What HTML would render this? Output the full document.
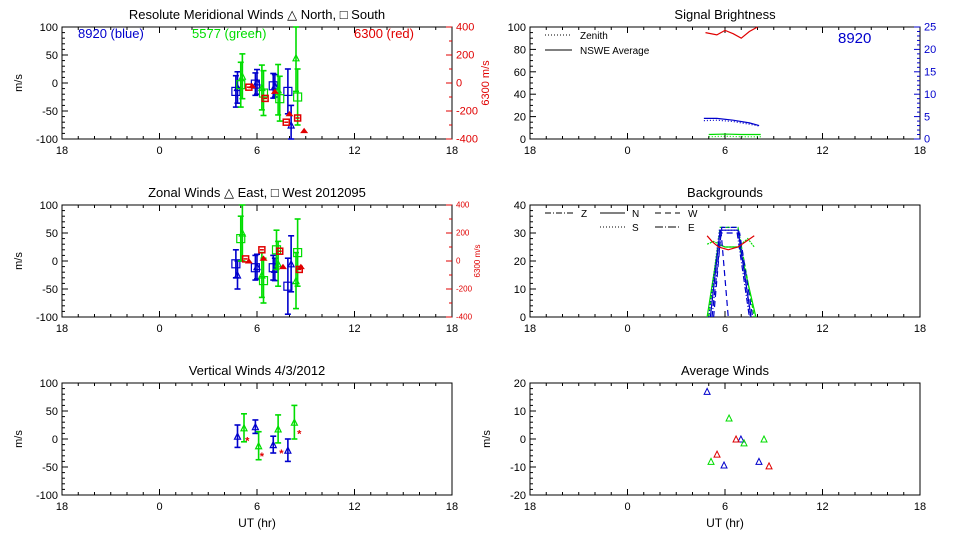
<!DOCTYPE html>
<html><head><meta charset="utf-8"><style>
body{margin:0;background:#fff;}
svg text{font-family:"Liberation Sans",sans-serif;}
</style></head><body>
<svg id="c" width="960" height="540" xmlns="http://www.w3.org/2000/svg"></svg>
<script>
// ---------- data ----------
const xTickLabels=["18","0","6","12","18"];
// Meridional (top-left)
const merBlueTriT=[4.8,6.0,7.1,8.1], merBlueTriV=[-8,2,-5,-75], merBlueTriE=[28,22,20,35];
const merBlueSqT=[4.7,5.9,7.0,7.9], merBlueSqV=[-15,-2,-5,-15], merBlueSqE=[28,20,22,40];
const merGreenTriT=[5.1,6.3,7.3,8.4], merGreenTriV=[12,-8,-12,45], merGreenTriE=[40,40,45,60];
const merGreenSqT=[5.0,6.4,7.4,8.5], merGreenSqV=[-3,-18,-28,-25], merGreenSqE=[40,40,40,50];
const merRedSqT=[5.5,6.5,7.8,8.5], merRedSqV=[-30,-110,-280,-250];
const merRedTriT=[5.7,7.1,8.0,8.9], merRedTriV=[-20,-60,-220,-340];
// Zonal (middle-left)
const zonBlueTriT=[4.8,6.0,7.1,8.1], zonBlueTriV=[-25,-10,-15,-5], zonBlueTriE=[25,22,20,50];
const zonBlueSqT=[4.7,5.9,7.0,7.9], zonBlueSqV=[-5,-12,-12,-45], zonBlueSqE=[25,22,22,50];
const zonGreenTriT=[5.1,6.3,7.3,8.4], zonGreenTriV=[50,-25,-5,-35], zonGreenTriE=[50,40,40,50];
const zonGreenSqT=[5.0,6.4,7.2,8.5], zonGreenSqV=[40,-35,20,15], zonGreenSqE=[40,40,35,60];
const zonRedSqT=[5.3,6.3,7.4,8.6], zonRedSqV=[15,80,70,-60];
const zonRedTriT=[5.5,6.4,7.6,8.7], zonRedTriV=[0,20,-40,-40];
// Vertical (bottom-left)
const verBlueT=[4.8,5.9,7.0,7.9], verBlueV=[5,22,-10,-20], verBlueE=[20,12,15,20];
const verGreenT=[5.2,6.1,7.3,8.3], verGreenV=[20,-12,18,30], verGreenE=[25,25,25,30];
const verRedT=[5.4,6.3,7.5,8.6], verRedV=[-3,-30,-25,10];
// Signal brightness (top-right)
const sigBlueT=[4.7,5.5,6.5,7.5,8.1], sigBlueV=[4.6,4.6,4.2,3.6,3.0];
const sigBlue2T=[4.7,5.5,6.5,7.5,8.1], sigBlue2V=[4.1,4.2,3.9,3.3,2.9];
const sigGreenT=[5.0,6.0,7.0,8.2], sigGreenV=[1.0,1.1,1.0,1.0];
const sigGreen2T=[5.0,6.0,7.0,8.2], sigGreen2V=[0.5,0.6,0.5,0.5];
const sigRedT=[4.8,5.5,6.0,6.5,7.0,7.5,8.0], sigRedV=[95,93,97,94,90,96,100];
// Backgrounds (middle-right)
const bgBlueN=[[5.1,0],[5.7,31],[6.8,31],[7.6,0]];
const bgBlueZ=[[5.2,0],[5.8,32],[6.7,32],[7.5,0]];
const bgBlueW=[[5.3,0],[5.75,30],[6.9,30],[7.7,0]];
const bgBlueS=[[5.0,0],[5.65,31],[6.85,31],[7.55,0]];
const bgBlueD=[[5.75,31],[6.2,0]];
const bgGreen1=[[4.9,0],[5.6,26],[6.0,25],[6.9,25],[7.9,0]];
const bgGreen2=[[5.0,0],[5.7,32],[6.8,32],[7.8,0]];
const bgRed=[[4.9,29],[5.2,27],[5.6,25],[6.2,24],[6.8,25],[7.3,27],[7.8,29]];
const bgGreenFlare=[[4.9,26],[5.3,27],[6.0,25],[6.8,25],[7.4,28],[7.8,25]];
// Average winds (bottom-right)
const avgBlueT=[4.9,5.94,6.98,8.09], avgBlueV=[17,-9.3,0,-8];
const avgGreenT=[5.14,6.25,7.17,8.4], avgGreenV=[-8,7.5,-1.4,0];
const avgRedT=[5.51,6.68,8.71], avgRedV=[-5.4,0,-9.6];

// ---------- drawing ----------
const svg=document.getElementById('c');
const NS="http://www.w3.org/2000/svg";
function mk(tag,attrs,parent){const e=document.createElementNS(NS,tag);for(const k in attrs)e.setAttribute(k,attrs[k]);(parent||svg).appendChild(e);return e;}
function txt(s,x,y,opt,name){const e=mk('text',Object.assign({x:x,y:y,'font-size':12,fill:'#000'},opt||{}));e.textContent=s;

return e;}

function panel(x0,y0,x1,y1,ymin,ymax,yTicks,yMinor,name){
  const P={x0,y0,x1,y1,ymin,ymax};
  P.sx=t=>x0+(t+6)*(x1-x0)/24;
  P.sy=v=>y1-(v-ymin)*(y1-y0)/(ymax-ymin);
  const g=mk('g',{});
  
  
  mk('rect',{x:x0,y:y0,width:x1-x0,height:y1-y0,fill:'none',stroke:'#000','stroke-width':1},g);
  for(let h=0;h<=24;h++){const X=x0+h*(x1-x0)/24;const L=(h%6==0)?6:3;
    mk('line',{x1:X,y1:y1,x2:X,y2:y1-L,stroke:'#000'},g);mk('line',{x1:X,y1:y0,x2:X,y2:y0+L,stroke:'#000'},g);}
  xTickLabels.forEach((s,i)=>{txt(s,x0+i*(x1-x0)/4,y1+15,{'text-anchor':'middle','font-size':11},'x-tick-label');});
  for(let v=ymin;v<=ymax+1e-9;v+=yMinor){const Y=P.sy(v);const major=yTicks.some(t=>Math.abs(t-v)<1e-9);
    mk('line',{x1:x0,y1:Y,x2:x0+(major?6:3),y2:Y,stroke:'#000'},g);}
  yTicks.forEach(v=>txt(String(v),x0-4,P.sy(v)+4,{'text-anchor':'end','font-size':11},'y-tick-label'));
  return P;
}
function rightAxis(P,rmin,rmax,ticks,minor,color,fs,name){
  const sr=v=>P.y1-(v-rmin)*(P.y1-P.y0)/(rmax-rmin);
  for(let v=rmin;v<=rmax+1e-9;v+=minor){const Y=sr(v);const major=ticks.includes(v);
    mk('line',{x1:P.x1,y1:Y,x2:P.x1-(major?6:3),y2:Y,stroke:color});}
  ticks.forEach(v=>txt(String(v),P.x1+4,sr(v)+fs/3,{fill:color,'font-size':fs},name));
  return sr;
}
function errbar(X,Y1,Y2,color){mk('line',{x1:X,y1:Y1,x2:X,y2:Y2,stroke:color,'stroke-width':1.6});
  mk('line',{x1:X-3,y1:Y1,x2:X+3,y2:Y1,stroke:color,'stroke-width':1.6});mk('line',{x1:X-3,y1:Y2,x2:X+3,y2:Y2,stroke:color,'stroke-width':1.6});}
function tri(X,Y,color,w){const e=mk('polygon',{points:`${X-3},${Y+3} ${X+3},${Y+3} ${X},${Y-3}`,fill:'none',stroke:color,'stroke-width':w||1.2});
  }
function sq(X,Y,color,fill){const e=mk('rect',{x:X-4,y:Y-4,width:8,height:8,fill:fill||'none',stroke:color,'stroke-width':1.2});
  }
function series(P,T,V,E,color,kind){T.forEach((t,i)=>{const X=P.sx(t),Y=P.sy(V[i]);
  if(E)errbar(X,Math.max(P.y0,P.sy(V[i]+E[i])),Math.min(P.y1,P.sy(V[i]-E[i])),color);
  kind=='tri'?tri(X,Y,color):sq(X,Y,color);});}
function redSeries(P,sr,T,V,kind){T.forEach((t,i)=>{const X=P.sx(t),Y=sr(V[i]);
  if(kind=='sq'){const e=mk('rect',{x:X-3,y:Y-3,width:6,height:6,fill:'none',stroke:'#e00000','stroke-width':1.5});
   
   mk('line',{x1:X-2,y1:Y,x2:X+2,y2:Y,stroke:'#e00000','stroke-width':1.5});}
  else{const e=mk('polygon',{points:`${X-3},${Y+2} ${X+3},${Y+2} ${X},${Y-2}`,fill:'#e00000',stroke:'#e00000'});
   }});}
function line(P,pts,color,dash,sy){const s=sy||P.sy;const e=mk('polyline',{points:pts.map(p=>P.sx(p[0])+','+s(p[1])).join(' '),fill:'none',stroke:color,'stroke-width':1.2,'stroke-dasharray':dash||'none'});
  }
function ylab(s,x,y,color,fs,name){txt(s,x,y,{'text-anchor':'middle',fill:color||'#000','font-size':fs||11,transform:`rotate(-90 ${x} ${y})`},name);}

// Top-left
const P1=panel(62,27,452,139,-100,100,[100,50,0,-50,-100],10,'meridional-winds-panel');
txt('Resolute Meridional Winds \u25B3 North, \u25A1 South',257,19,{'text-anchor':'middle','font-size':13},'meridional-title');
ylab('m/s',22,83,'#000',11,'y-axis-title');
const r1=rightAxis(P1,-400,400,[400,200,0,-200,-400],100,'#e00000',11,'red-tick-label');
ylab('6300 m/s',489,83,'#e00000',11,'red-axis-title');
txt('8920 (blue)',78,38,{fill:'#0000cc','font-size':13},'legend-blue');
txt('5577 (green)',192,38,{fill:'#00dd00','font-size':13},'legend-green');
txt('6300 (red)',354,38,{fill:'#e00000','font-size':13},'legend-red');
series(P1,merBlueTriT,merBlueTriV,merBlueTriE,'#0000cc','tri');
series(P1,merBlueSqT,merBlueSqV,merBlueSqE,'#0000cc','sq');
series(P1,merGreenTriT,merGreenTriV,merGreenTriE,'#00dd00','tri');
series(P1,merGreenSqT,merGreenSqV,merGreenSqE,'#00dd00','sq');
redSeries(P1,r1,merRedSqT,merRedSqV,'sq');redSeries(P1,r1,merRedTriT,merRedTriV,'tri');

// Middle-left
const P2=panel(62,205,452,317,-100,100,[100,50,0,-50,-100],10,'zonal-winds-panel');
txt('Zonal Winds \u25B3 East, \u25A1 West 2012095',257,197,{'text-anchor':'middle','font-size':13},'zonal-title');
ylab('m/s',22,261,'#000',11,'y-axis-title');
const r2=rightAxis(P2,-400,400,[400,200,0,-200,-400],100,'#e00000',8,'red-tick-label');
ylab('6300 m/s',480,261,'#e00000',8,'red-axis-title');
series(P2,zonBlueTriT,zonBlueTriV,zonBlueTriE,'#0000cc','tri');
series(P2,zonBlueSqT,zonBlueSqV,zonBlueSqE,'#0000cc','sq');
series(P2,zonGreenTriT,zonGreenTriV,zonGreenTriE,'#00dd00','tri');
series(P2,zonGreenSqT,zonGreenSqV,zonGreenSqE,'#00dd00','sq');
redSeries(P2,r2,zonRedSqT,zonRedSqV,'sq');redSeries(P2,r2,zonRedTriT,zonRedTriV,'tri');

// Bottom-left
const P3=panel(62,383,452,495,-100,100,[100,50,0,-50,-100],10,'vertical-winds-panel');
txt('Vertical Winds 4/3/2012',257,375,{'text-anchor':'middle','font-size':13},'vertical-title');
ylab('m/s',22,439,'#000',11,'y-axis-title');
txt('UT (hr)',257,527,{'text-anchor':'middle','font-size':12},'x-axis-title');
series(P3,verBlueT,verBlueV,verBlueE,'#0000cc','tri');
series(P3,verGreenT,verGreenV,verGreenE,'#00dd00','tri');
verRedT.forEach((t,i)=>{const X=P3.sx(t),Y=P3.sy(verRedV[i]);const e=mk('text',{x:X,y:Y+4,'text-anchor':'middle','font-size':11,fill:'#e00000','font-weight':'bold'});e.textContent='*';
 });

// Top-right
const Q1=panel(530,27,920,139,0,100,[0,20,40,60,80,100],5,'signal-brightness-panel');
txt('Signal Brightness',725,19,{'text-anchor':'middle','font-size':13},'brightness-title');
const b1=rightAxis(Q1,0,25,[0,5,10,15,20,25],1,'#0000cc',11,'blue-tick-label');
txt('8920',838,43,{fill:'#0000cc','font-size':15},'wavelength-label');
mk('line',{x1:545,y1:35,x2:572,y2:35,stroke:'#000','stroke-dasharray':'1,2'});
txt('Zenith',580,39,{'font-size':10},'legend-zenith');
mk('line',{x1:545,y1:50,x2:572,y2:50,stroke:'#000'});
txt('NSWE Average',580,54,{'font-size':10},'legend-average');
line(Q1,sigBlueT.map((t,i)=>[t,sigBlueV[i]]),'#0000cc','none',b1);
line(Q1,sigBlue2T.map((t,i)=>[t,sigBlue2V[i]]),'#0000cc','1,2',b1);
line(Q1,sigGreenT.map((t,i)=>[t,sigGreenV[i]]),'#00dd00','none',b1);
line(Q1,sigGreen2T.map((t,i)=>[t,sigGreen2V[i]]),'#00dd00','1,2',b1);
line(Q1,sigRedT.map((t,i)=>[t,sigRedV[i]]),'#e00000');

// Middle-right
const Q2=panel(530,205,920,317,0,40,[0,10,20,30,40],2,'backgrounds-panel');
txt('Backgrounds',725,197,{'text-anchor':'middle','font-size':13},'backgrounds-title');
mk('line',{x1:545,y1:213,x2:575,y2:213,stroke:'#000','stroke-dasharray':'6,2,1,2'});txt('Z',581,217,{'font-size':10},'legend-z');
mk('line',{x1:600,y1:213,x2:625,y2:213,stroke:'#000'});txt('N',632,217,{'font-size':10},'legend-n');
mk('line',{x1:655,y1:213,x2:680,y2:213,stroke:'#000','stroke-dasharray':'6,4'});txt('W',688,217,{'font-size':10},'legend-w');
mk('line',{x1:600,y1:227,x2:625,y2:227,stroke:'#000','stroke-dasharray':'1,2'});txt('S',632,231,{'font-size':10},'legend-s');
mk('line',{x1:655,y1:227,x2:680,y2:227,stroke:'#000','stroke-dasharray':'8,2,1,2'});txt('E',688,231,{'font-size':10},'legend-e');
line(Q2,bgGreen1,'#00dd00');line(Q2,bgGreen2,'#00dd00','4,2');line(Q2,bgGreenFlare,'#00dd00','2,1');
line(Q2,bgBlueN,'#0000cc');line(Q2,bgBlueZ,'#0000cc','6,2,1,2');line(Q2,bgBlueW,'#0000cc','6,4');
line(Q2,bgBlueS,'#0000cc','1,2');line(Q2,bgBlueD,'#0000cc','6,4');
line(Q2,bgRed,'#e00000');

// Bottom-right
const Q3=panel(530,383,920,495,-20,20,[20,10,0,-10,-20],2,'average-winds-panel');
txt('Average Winds',725,375,{'text-anchor':'middle','font-size':13},'average-title');
ylab('m/s',490,439,'#000',11,'y-axis-title');
txt('UT (hr)',725,527,{'text-anchor':'middle','font-size':12},'x-axis-title');
avgBlueT.forEach((t,i)=>tri(Q3.sx(t),Q3.sy(avgBlueV[i]),'#0000cc',1));
avgGreenT.forEach((t,i)=>tri(Q3.sx(t),Q3.sy(avgGreenV[i]),'#00dd00',1));
avgRedT.forEach((t,i)=>tri(Q3.sx(t),Q3.sy(avgRedV[i]),'#e00000',1));
</script>
</body></html>
